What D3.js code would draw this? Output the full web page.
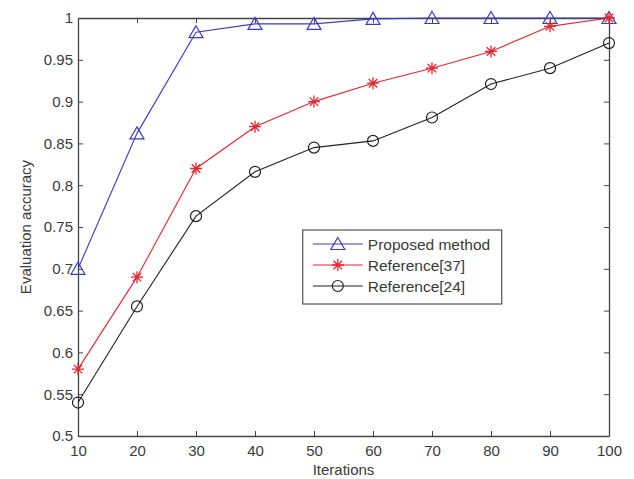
<!DOCTYPE html>
<html>
<head>
<meta charset="utf-8">
<script src="https://cdn.jsdelivr.net/npm/d3@7"></script>
<style>
  body { margin: 0; background: #fff; }
  .axis text { font-family: "Liberation Sans", Arial, sans-serif; font-size: 15px; fill: #3a3a3a; }
  .axis path, .axis line { stroke: #444; }
  .label { font-family: "Liberation Sans", Arial, sans-serif; font-size: 15px; fill: #3a3a3a; }
</style>
</head>
<body>
<div id="chart"></div>
<script>
// data
let iterations = [10, 20, 30, 40, 50, 60, 70, 80, 90, 100];
let proposed = [0.70, 0.862, 0.983, 0.993, 0.993, 0.999, 1.0, 1.0, 1.0, 1.0];
let ref37 = [0.58, 0.69, 0.82, 0.87, 0.90, 0.922, 0.94, 0.96, 0.99, 1.0];
let ref24 = [0.54, 0.655, 0.763, 0.816, 0.845, 0.853, 0.881, 0.921, 0.94, 0.97];
let yTicks = [0.5, 0.55, 0.6, 0.65, 0.7, 0.75, 0.8, 0.85, 0.9, 0.95, 1];
let seriesNames = ["Proposed method", "Reference[37]", "Reference[24]"];

let series = [
    {name: seriesNames[0], values: proposed, color: "#3b3bc4", marker: "triangle"},
    {name: seriesNames[1], values: ref37, color: "#e3262f", marker: "star"},
    {name: seriesNames[2], values: ref24, color: "#222", marker: "circle"}
];

let margin = {top: 18, right: 25, bottom: 43, left: 78};
let W = 634, H = 479;
let width = W - margin.left - margin.right;
let height = H - margin.top - margin.bottom;

let svg = d3.select("#chart").append("svg")
    .attr("width", W)
    .attr("height", H)
    .append("g")
    .attr("transform", `translate(${margin.left}, ${margin.top})`);

let x = d3.scaleLinear().domain([10, 100]).range([0, width]);
let y = d3.scaleLinear().domain([0.5, 1]).range([height, 0]);

let fmt = d => d3.format("")(+d.toFixed(2));

// axes, ticks pointing inwards like matlab
svg.append("g").attr("class", "axis")
    .attr("transform", `translate(0, ${height})`)
    .call(d3.axisBottom(x).tickValues(iterations).tickSizeInner(-5).tickSizeOuter(0).tickPadding(9));
svg.append("g").attr("class", "axis")
    .call(d3.axisTop(x).tickValues(iterations).tickSizeInner(-5).tickSizeOuter(0).tickFormat(""));
svg.append("g").attr("class", "axis")
    .call(d3.axisLeft(y).tickValues(yTicks).tickFormat(fmt).tickSizeInner(-5).tickSizeOuter(0).tickPadding(5));
svg.append("g").attr("class", "axis")
    .attr("transform", `translate(${width}, 0)`)
    .call(d3.axisRight(y).tickValues(yTicks).tickSizeInner(-5).tickSizeOuter(0).tickFormat(""));

svg.selectAll(".axis .domain").attr("stroke-width", 1.3);

// axis titles
svg.append("text").attr("class", "label")
    .attr("text-anchor", "middle")
    .attr("x", width / 2)
    .attr("y", height + 39)
    .text("Iterations");
svg.append("text").attr("class", "label")
    .attr("text-anchor", "middle")
    .attr("transform", `translate(${-margin.left + 31}, ${height / 2}) rotate(-90)`)
    .text("Evaluation accuracy");

function drawMarker(g, type, color) {
    if (type === "triangle") {
        g.append("path").attr("d", "M0,-6.5L7,5.5L-7,5.5Z")
            .attr("fill", "none").attr("stroke", color).attr("stroke-width", 1.2);
    } else if (type === "circle") {
        g.append("circle").attr("r", 5.5)
            .attr("fill", "none").attr("stroke", color).attr("stroke-width", 1.2);
    } else {
        let r = 6, p = "";
        for (let i = 0; i < 4; i++) {
            let a = i * Math.PI / 4;
            p += `M${r * Math.cos(a)},${r * Math.sin(a)}L${-r * Math.cos(a)},${-r * Math.sin(a)}`;
        }
        g.append("path").attr("d", p).attr("stroke", color).attr("stroke-width", 1.3);
    }
}

let line = d3.line().x((d, i) => x(iterations[i])).y(d => y(d));

series.forEach(s => {
    svg.append("path")
        .datum(s.values)
        .attr("fill", "none")
        .attr("stroke", s.color)
        .attr("stroke-width", 1.1)
        .attr("d", line);

    s.values.forEach((v, i) => {
        let g = svg.append("g").attr("transform", `translate(${x(iterations[i])}, ${y(v)})`);
        drawMarker(g, s.marker, s.color);
    });
});

// legend
let legend = svg.append("g").attr("transform", `translate(${x(48.1)}, ${y(0.7464)})`);
legend.append("rect")
    .attr("width", 199).attr("height", 74)
    .attr("fill", "#fff").attr("stroke", "#333").attr("stroke-width", 1);

series.forEach((s, i) => {
    let row = legend.append("g").attr("transform", `translate(0, ${14 + i * 21})`);
    row.append("line").attr("x1", 10).attr("x2", 60)
        .attr("stroke", s.color).attr("stroke-width", 1.1);
    drawMarker(row.append("g").attr("transform", "translate(35, 0)"), s.marker, s.color);
    row.append("text").attr("class", "label")
        .attr("x", 65).attr("y", 5.5)
        .style("font-size", "15.5px")
        .text(s.name);
});
</script>
</body>
</html>
